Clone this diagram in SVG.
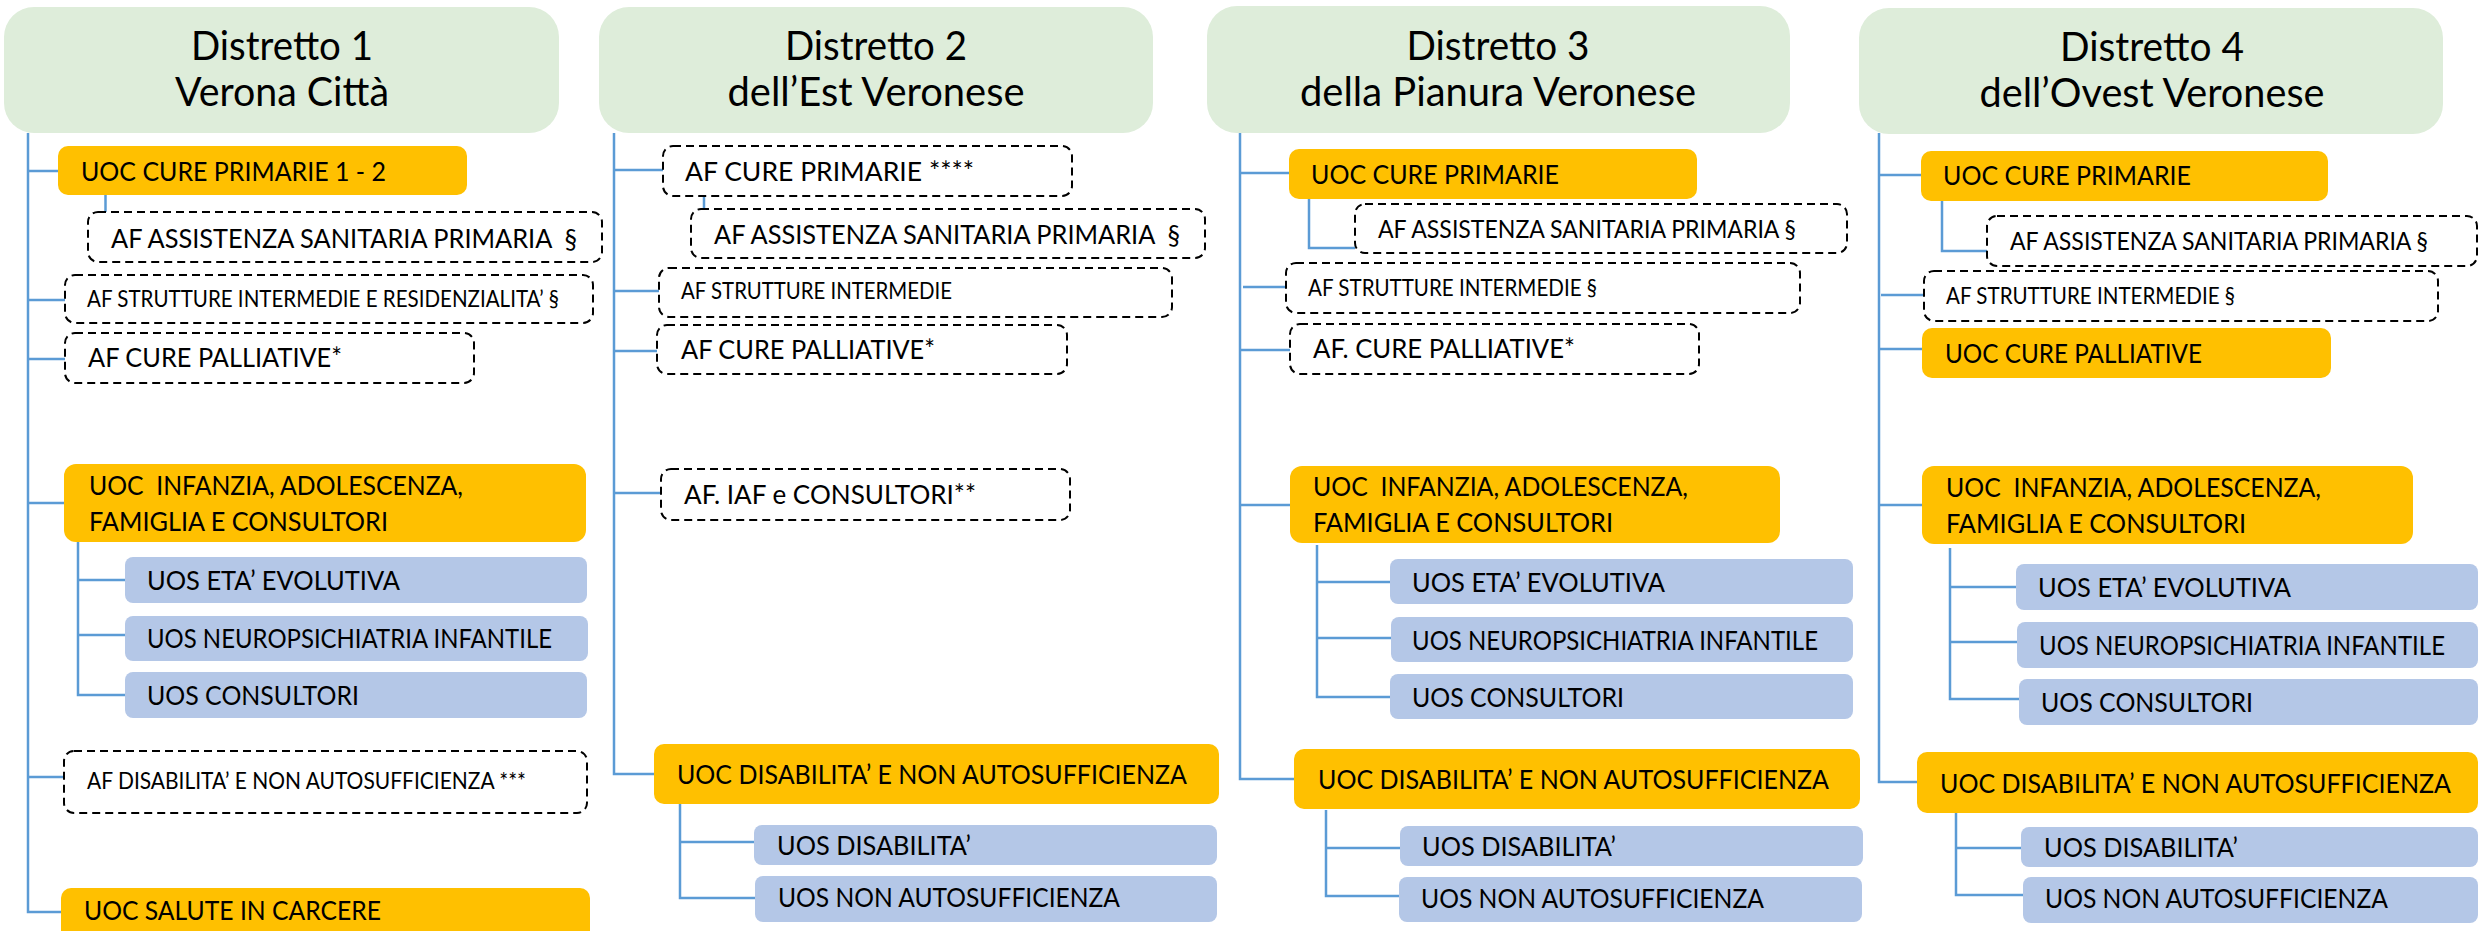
<svg xmlns="http://www.w3.org/2000/svg" width="2479" height="931" viewBox="0 0 2479 931">
<style>
.hd{fill:#DEEDDA}
.or{fill:#FFC000}
.bl{fill:#B4C7E7}
.af{fill:#fff;stroke:#000;stroke-width:2;stroke-dasharray:8 5}
.ln{fill:none;stroke:#5B9BD5;stroke-width:2.5}
text{font-family:Lato,"Open Sans",sans-serif;fill:#000}
.h{font-size:40px;text-anchor:middle}
.n{font-size:27.5px}
.m{font-size:25px}
.s{font-size:22.5px}
</style>
<rect width="2479" height="931" fill="#fff"/>
<g id="connectors" class="ln">
<path d="M28 133V912H61"/>
<path d="M28 171H58"/>
<path d="M105.5 195V212"/>
<path d="M28 300H65"/>
<path d="M28 359H65"/>
<path d="M28 503H64"/>
<path d="M78 542V695H125M78 580H125M78 635H125"/>
<path d="M28 777H64"/>
<path d="M614 133V774H654"/>
<path d="M614 170H663"/>
<path d="M704 196V209"/>
<path d="M614 291H659"/>
<path d="M614 351H657"/>
<path d="M614 493H661"/>
<path d="M680 804V898H755M680 842H754"/>
<path d="M1240 133V779H1294"/>
<path d="M1240 173H1289"/>
<path d="M1309 199V248H1355"/>
<path d="M1243 287H1286"/>
<path d="M1240 350H1290"/>
<path d="M1240 505H1290"/>
<path d="M1317 545V697H1390M1317 582H1390M1317 638H1391"/>
<path d="M1326 810V896H1399M1326 848H1400"/>
<path d="M1879 133V782H1917"/>
<path d="M1879 175H1921"/>
<path d="M1942 201V251H1987"/>
<path d="M1881 295H1924"/>
<path d="M1879 349H1922"/>
<path d="M1879 505H1922"/>
<path d="M1950 548V699H2019M1950 587H2016M1950 642H2017"/>
<path d="M1956 813V895H2023M1956 848H2021"/>
</g>

<g id="d1">
<g id="d1-head"><rect class="hd" x="4" y="7" width="555" height="126" rx="30"/>
<text class="h" x="282" y="60" textLength="182" lengthAdjust="spacingAndGlyphs">Distretto 1</text>
<text class="h" x="282" y="106" textLength="214" lengthAdjust="spacingAndGlyphs">Verona Città</text></g>
<g id="d1-uoc-cp"><rect class="or" x="58" y="146" width="409" height="49" rx="10"/>
<text class="n" x="81" y="181" textLength="305" lengthAdjust="spacingAndGlyphs">UOC CURE PRIMARIE 1 - 2</text></g>
<g id="d1-af-asp"><rect class="af" x="88" y="212" width="514" height="50" rx="10"/>
<text class="n" x="111" y="248" textLength="466" lengthAdjust="spacingAndGlyphs" xml:space="preserve">AF ASSISTENZA SANITARIA PRIMARIA  §</text></g>
<g id="d1-af-sir"><rect class="af" x="65" y="275" width="528" height="48" rx="10"/>
<text class="s" x="87" y="307" textLength="472" lengthAdjust="spacingAndGlyphs">AF STRUTTURE INTERMEDIE E RESIDENZIALITA’ §</text></g>
<g id="d1-af-cp"><rect class="af" x="65" y="333" width="409" height="50" rx="10"/>
<text class="n" x="88" y="367" textLength="254" lengthAdjust="spacingAndGlyphs">AF CURE PALLIATIVE*</text></g>
<g id="d1-uoc-iaf"><rect class="or" x="64" y="464" width="522" height="78" rx="12"/>
<text class="n" x="89" y="495" textLength="374" lengthAdjust="spacingAndGlyphs" xml:space="preserve">UOC  INFANZIA, ADOLESCENZA,</text>
<text class="n" x="89" y="531" textLength="299" lengthAdjust="spacingAndGlyphs">FAMIGLIA E CONSULTORI</text></g>
<g id="d1-uos-eta"><rect class="bl" x="125" y="557" width="462" height="46" rx="8"/>
<text class="n" x="147" y="590" textLength="253" lengthAdjust="spacingAndGlyphs">UOS ETA’ EVOLUTIVA</text></g>
<g id="d1-uos-npi"><rect class="bl" x="125" y="616" width="463" height="45" rx="8"/>
<text class="n" x="147" y="648" textLength="405" lengthAdjust="spacingAndGlyphs">UOS NEUROPSICHIATRIA INFANTILE</text></g>
<g id="d1-uos-cons"><rect class="bl" x="125" y="672" width="462" height="46" rx="8"/>
<text class="n" x="147" y="705" textLength="212" lengthAdjust="spacingAndGlyphs">UOS CONSULTORI</text></g>
<g id="d1-af-dis"><rect class="af" x="64" y="751" width="523" height="62" rx="10"/>
<text class="s" x="87" y="789" textLength="439" lengthAdjust="spacingAndGlyphs">AF DISABILITA’ E NON AUTOSUFFICIENZA ***</text></g>
<g id="d1-uoc-sal"><rect class="or" x="61" y="888" width="529" height="60" rx="10"/>
<text class="n" x="84" y="920" textLength="297" lengthAdjust="spacingAndGlyphs">UOC SALUTE IN CARCERE</text></g>
</g>

<g id="d2">
<g id="d2-head"><rect class="hd" x="599" y="7" width="554" height="126" rx="30"/>
<text class="h" x="876" y="60" textLength="182" lengthAdjust="spacingAndGlyphs">Distretto 2</text>
<text class="h" x="876" y="106" textLength="297" lengthAdjust="spacingAndGlyphs">dell’Est Veronese</text></g>
<g id="d2-af-cp"><rect class="af" x="663" y="146" width="409" height="50" rx="10"/>
<text class="n" x="685" y="181" textLength="289" lengthAdjust="spacingAndGlyphs">AF CURE PRIMARIE ****</text></g>
<g id="d2-af-asp"><rect class="af" x="691" y="209" width="514" height="49" rx="10"/>
<text class="n" x="714" y="244" textLength="466" lengthAdjust="spacingAndGlyphs" xml:space="preserve">AF ASSISTENZA SANITARIA PRIMARIA  §</text></g>
<g id="d2-af-si"><rect class="af" x="659" y="268" width="513" height="49" rx="10"/>
<text class="s" x="681" y="299" textLength="271" lengthAdjust="spacingAndGlyphs">AF STRUTTURE INTERMEDIE</text></g>
<g id="d2-af-pal"><rect class="af" x="657" y="325" width="410" height="49" rx="10"/>
<text class="n" x="681" y="359" textLength="254" lengthAdjust="spacingAndGlyphs">AF CURE PALLIATIVE*</text></g>
<g id="d2-af-iaf"><rect class="af" x="661" y="469" width="409" height="51" rx="10"/>
<text class="n" x="684" y="504" textLength="292" lengthAdjust="spacingAndGlyphs">AF. IAF e CONSULTORI**</text></g>
<g id="d2-uoc-dis"><rect class="or" x="654" y="744" width="565" height="60" rx="10"/>
<text class="n" x="677" y="784" textLength="510" lengthAdjust="spacingAndGlyphs">UOC DISABILITA’ E NON AUTOSUFFICIENZA</text></g>
<g id="d2-uos-dis"><rect class="bl" x="754" y="825" width="463" height="40" rx="8"/>
<text class="n" x="777" y="855" textLength="194" lengthAdjust="spacingAndGlyphs">UOS DISABILITA’</text></g>
<g id="d2-uos-na"><rect class="bl" x="755" y="876" width="462" height="46" rx="8"/>
<text class="n" x="778" y="907" textLength="342" lengthAdjust="spacingAndGlyphs">UOS NON AUTOSUFFICIENZA</text></g>
</g>

<g id="d3">
<g id="d3-head"><rect class="hd" x="1207" y="6" width="583" height="127" rx="30"/>
<text class="h" x="1498" y="60" textLength="183" lengthAdjust="spacingAndGlyphs">Distretto 3</text>
<text class="h" x="1498" y="106" textLength="396" lengthAdjust="spacingAndGlyphs">della Pianura Veronese</text></g>
<g id="d3-uoc-cp"><rect class="or" x="1289" y="149" width="408" height="50" rx="10"/>
<text class="n" x="1311" y="184" textLength="248" lengthAdjust="spacingAndGlyphs">UOC CURE PRIMARIE</text></g>
<g id="d3-af-asp"><rect class="af" x="1355" y="204" width="492" height="49" rx="10"/>
<text class="m" x="1378" y="238" textLength="418" lengthAdjust="spacingAndGlyphs">AF ASSISTENZA SANITARIA PRIMARIA §</text></g>
<g id="d3-af-si"><rect class="af" x="1286" y="263" width="514" height="50" rx="10"/>
<text class="s" x="1308" y="296" textLength="289" lengthAdjust="spacingAndGlyphs">AF STRUTTURE INTERMEDIE §</text></g>
<g id="d3-af-pal"><rect class="af" x="1290" y="324" width="409" height="50" rx="10"/>
<text class="n" x="1313" y="358" textLength="262" lengthAdjust="spacingAndGlyphs">AF. CURE PALLIATIVE*</text></g>
<g id="d3-uoc-iaf"><rect class="or" x="1290" y="466" width="490" height="77" rx="12"/>
<text class="n" x="1313" y="496" textLength="375" lengthAdjust="spacingAndGlyphs" xml:space="preserve">UOC  INFANZIA, ADOLESCENZA,</text>
<text class="n" x="1313" y="532" textLength="300" lengthAdjust="spacingAndGlyphs">FAMIGLIA E CONSULTORI</text></g>
<g id="d3-uos-eta"><rect class="bl" x="1390" y="559" width="463" height="45" rx="8"/>
<text class="n" x="1412" y="592" textLength="253" lengthAdjust="spacingAndGlyphs">UOS ETA’ EVOLUTIVA</text></g>
<g id="d3-uos-npi"><rect class="bl" x="1391" y="617" width="462" height="45" rx="8"/>
<text class="n" x="1412" y="650" textLength="406" lengthAdjust="spacingAndGlyphs">UOS NEUROPSICHIATRIA INFANTILE</text></g>
<g id="d3-uos-cons"><rect class="bl" x="1390" y="674" width="463" height="45" rx="8"/>
<text class="n" x="1412" y="707" textLength="212" lengthAdjust="spacingAndGlyphs">UOS CONSULTORI</text></g>
<g id="d3-uoc-dis"><rect class="or" x="1294" y="749" width="566" height="60" rx="10"/>
<text class="n" x="1318" y="789" textLength="511" lengthAdjust="spacingAndGlyphs">UOC DISABILITA’ E NON AUTOSUFFICIENZA</text></g>
<g id="d3-uos-dis"><rect class="bl" x="1400" y="826" width="463" height="40" rx="8"/>
<text class="n" x="1422" y="856" textLength="194" lengthAdjust="spacingAndGlyphs">UOS DISABILITA’</text></g>
<g id="d3-uos-na"><rect class="bl" x="1399" y="877" width="463" height="45" rx="8"/>
<text class="n" x="1421" y="908" textLength="343" lengthAdjust="spacingAndGlyphs">UOS NON AUTOSUFFICIENZA</text></g>
</g>

<g id="d4">
<g id="d4-head"><rect class="hd" x="1859" y="8" width="584" height="126" rx="30"/>
<text class="h" x="2152" y="61" textLength="184" lengthAdjust="spacingAndGlyphs">Distretto 4</text>
<text class="h" x="2152" y="107" textLength="345" lengthAdjust="spacingAndGlyphs">dell’Ovest Veronese</text></g>
<g id="d4-uoc-cp"><rect class="or" x="1921" y="151" width="407" height="50" rx="10"/>
<text class="n" x="1943" y="185" textLength="248" lengthAdjust="spacingAndGlyphs">UOC CURE PRIMARIE</text></g>
<g id="d4-af-asp"><rect class="af" x="1987" y="216" width="490" height="50" rx="10"/>
<text class="m" x="2010" y="250" textLength="418" lengthAdjust="spacingAndGlyphs">AF ASSISTENZA SANITARIA PRIMARIA §</text></g>
<g id="d4-af-si"><rect class="af" x="1924" y="271" width="514" height="50" rx="10"/>
<text class="s" x="1946" y="304" textLength="289" lengthAdjust="spacingAndGlyphs">AF STRUTTURE INTERMEDIE §</text></g>
<g id="d4-uoc-pal"><rect class="or" x="1922" y="328" width="409" height="50" rx="10"/>
<text class="n" x="1945" y="363" textLength="257" lengthAdjust="spacingAndGlyphs">UOC CURE PALLIATIVE</text></g>
<g id="d4-uoc-iaf"><rect class="or" x="1922" y="466" width="491" height="78" rx="12"/>
<text class="n" x="1946" y="497" textLength="375" lengthAdjust="spacingAndGlyphs" xml:space="preserve">UOC  INFANZIA, ADOLESCENZA,</text>
<text class="n" x="1946" y="533" textLength="300" lengthAdjust="spacingAndGlyphs">FAMIGLIA E CONSULTORI</text></g>
<g id="d4-uos-eta"><rect class="bl" x="2016" y="564" width="462" height="46" rx="8"/>
<text class="n" x="2038" y="597" textLength="253" lengthAdjust="spacingAndGlyphs">UOS ETA’ EVOLUTIVA</text></g>
<g id="d4-uos-npi"><rect class="bl" x="2017" y="622" width="461" height="46" rx="8"/>
<text class="n" x="2039" y="655" textLength="406" lengthAdjust="spacingAndGlyphs">UOS NEUROPSICHIATRIA INFANTILE</text></g>
<g id="d4-uos-cons"><rect class="bl" x="2019" y="679" width="459" height="46" rx="8"/>
<text class="n" x="2041" y="712" textLength="212" lengthAdjust="spacingAndGlyphs">UOS CONSULTORI</text></g>
<g id="d4-uoc-dis"><rect class="or" x="1917" y="752" width="561" height="61" rx="10"/>
<text class="n" x="1940" y="793" textLength="511" lengthAdjust="spacingAndGlyphs">UOC DISABILITA’ E NON AUTOSUFFICIENZA</text></g>
<g id="d4-uos-dis"><rect class="bl" x="2021" y="827" width="457" height="40" rx="8"/>
<text class="n" x="2044" y="857" textLength="194" lengthAdjust="spacingAndGlyphs">UOS DISABILITA’</text></g>
<g id="d4-uos-na"><rect class="bl" x="2023" y="877" width="455" height="46" rx="8"/>
<text class="n" x="2045" y="908" textLength="343" lengthAdjust="spacingAndGlyphs">UOS NON AUTOSUFFICIENZA</text></g>
</g>
</svg>
